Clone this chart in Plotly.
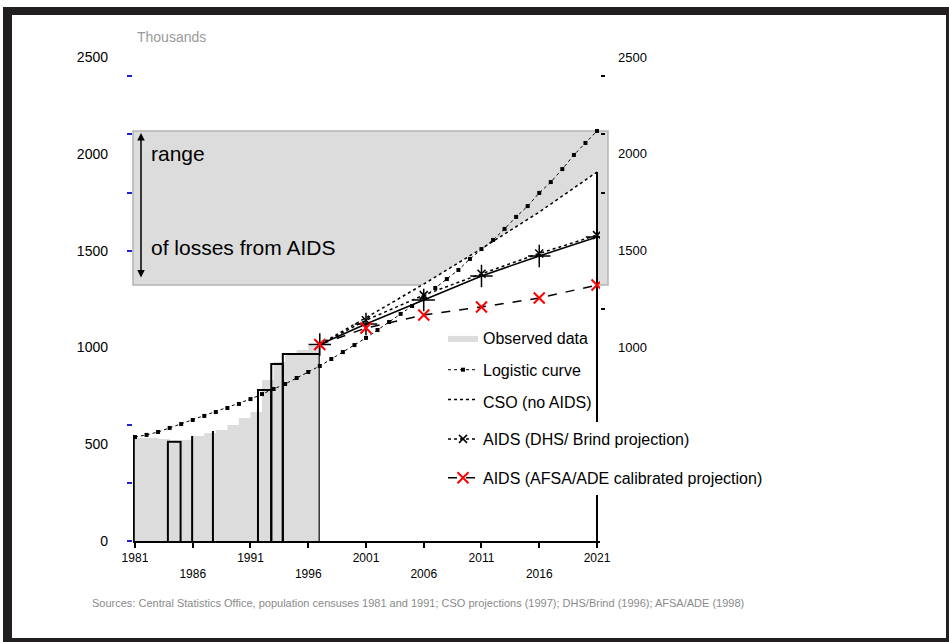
import plotly.graph_objects as go

# ---- data (thousands) ----
obs_years = list(range(1981, 1998))
obs_values = [532, 532, 527, 517, 522, 542, 558, 573, 599, 635, 666, 832, 925, 971, 987, 1007, 1007]

# census-style outline bars: start year, end year, height
bar_start = [1980.9, 1983.85, 1985.95, 1987.75, 1991.65, 1992.8, 1993.8, 1997.0]
bar_end = [1980.9, 1984.95, 1985.95, 1987.75, 1992.8, 1993.8, 1997.0, 1997.0]
bar_top = [537, 513, 542, 568, 780, 914, 966, 1028]

logistic_years = list(range(1981, 2022))
logistic_values = [537, 548, 563, 584, 604, 625, 646, 666, 687, 708,
                   733, 759, 785, 811, 842, 873, 904, 940, 976, 1012,
                   1049, 1090, 1131, 1173, 1214, 1260, 1307, 1353, 1400, 1457,
                   1508, 1555, 1612, 1674, 1730, 1798, 1854, 1921, 1994, 2056, 2118]

proj_years = [1997, 2001, 2006, 2011, 2016, 2021]
no_aids = [1015, 1152, 1327, 1510, 1699, 1906]
mid_proj = [1015, 1121, 1245, 1369, 1472, 1570]
aids_dhs = [1015, 1140, 1270, 1380, 1485, 1580]
aids_afsa = [1015, 1100, 1167, 1209, 1255, 1322]

x_tick_years = [1981, 1986, 1991, 1996, 2001, 2006, 2011, 2016, 2021]
y_tick_vals = [0, 500, 1000, 1500, 2000, 2500]
y2_tick_vals = [1000, 1500, 2000, 2500]
y_minor_vals = [0, 300, 600, 1500, 1800, 2100, 2400]

# ---- layout geometry (pixels) ----
W, H = 949, 642
PL, PR, PT, PB = 133, 600, 57, 541


def px_x(px):
    return (px - PL) / (PR - PL)


def px_y(py):
    return (PB - py) / (PB - PT)


FONT = "Arial, Liberation Sans, sans-serif"

fig = go.Figure()

# observed data: grey stepped area
fig.add_trace(go.Scatter(
    x=obs_years, y=obs_values, mode="lines", line=dict(width=0, shape="hv"),
    fill="tozeroy", fillcolor="#dcdcdc", name="Observed data",
    legendgroup="obs", legendrank=1, hoverinfo="skip"))

# observed data: black outlines of the census bars
ox, oy = [], []
for s, e, t in zip(bar_start, bar_end, bar_top):
    ox += [s, s, e, e, None]
    oy += [0, t, t, 0, None]
fig.add_trace(go.Scatter(
    x=ox, y=oy, mode="lines", line=dict(color="black", width=2),
    showlegend=False, hoverinfo="skip"))

# projection without AIDS: white area with black border
fig.add_trace(go.Scatter(
    x=proj_years, y=no_aids, mode="lines", line=dict(color="black", width=1.5, dash="dot"),
    fill="tozeroy", fillcolor="white", name="CSO (no AIDS)",
    legendgroup="noaids", legendrank=3, hoverinfo="skip"))
fig.add_trace(go.Scatter(
    x=[proj_years[-1], proj_years[-1]], y=[0, no_aids[-1]], mode="lines",
    line=dict(color="black", width=2), showlegend=False, hoverinfo="skip"))

# logistic curve
fig.add_trace(go.Scatter(
    x=logistic_years, y=logistic_values, mode="lines+markers",
    line=dict(color="black", width=1, dash="dot"),
    marker=dict(symbol="square", size=4, color="black"),
    name="Logistic curve", legendgroup="logistic", legendrank=2, hoverinfo="skip"))

# middle projection
fig.add_trace(go.Scatter(
    x=proj_years, y=mid_proj, mode="lines+markers",
    line=dict(color="black", width=1.5),
    marker=dict(symbol="cross-thin-open", size=16, color="black", line=dict(color="black", width=1.5)),
    showlegend=False, hoverinfo="skip"))

# AIDS projections
fig.add_trace(go.Scatter(
    x=proj_years, y=aids_dhs, mode="lines+markers",
    line=dict(color="black", width=1.5, dash="dot"),
    marker=dict(symbol="x-thin-open", size=8, color="black", line=dict(color="black", width=1.5)),
    name="AIDS (DHS/ Brind projection)", legend="legend2", legendgroup="dhs",
    hoverinfo="skip"))
fig.add_trace(go.Scatter(
    x=proj_years, y=aids_afsa, mode="lines+markers", yaxis="y2",
    line=dict(color="black", width=1.5, dash="dash"),
    marker=dict(symbol="x-thin-open", size=11, color="red", line=dict(color="red", width=2)),
    name="AIDS (AFSA/ADE calibrated projection)", legend="legend2", legendgroup="afsa",
    hoverinfo="skip"))

x_tick_text = [str(y) if i % 2 == 0 else "<br>" + str(y) for i, y in enumerate(x_tick_years)]

shapes = [
    # shaded band spanning the spread of 2021 projections
    dict(type="rect", xref="paper", yref="y", x0=0, x1=px_x(608),
         y0=aids_afsa[-1], y1=max(logistic_values), fillcolor="#dcdcdc",
         line=dict(color="#b4b4b4", width=1.5), layer="below"),
]
# outer frame
for x0, x1, y0, y1 in [(3, 12, 7, 642), (3, 949, 7, 15), (946, 949, 7, 642), (3, 949, 638, 642)]:
    shapes.append(dict(type="rect", xref="paper", yref="paper",
                       x0=px_x(x0), x1=px_x(x1), y0=px_y(y1), y1=px_y(y0),
                       fillcolor="#231f20", line=dict(width=0), layer="above"))

annotations = [
    dict(text="Thousands", xref="paper", yref="paper", x=px_x(135), y=px_y(37),
         xanchor="left", yanchor="middle", showarrow=False,
         font=dict(size=14, color="#9a9a9a", family=FONT)),
    dict(text="", xref="paper", yref="y", x=px_x(141), y=max(logistic_values),
         axref="pixel", ayref="y", ax=0, ay=aids_afsa[-1], showarrow=True,
         arrowside="end+start", arrowhead=2, arrowsize=1, arrowwidth=1.5,
         arrowcolor="black", standoff=2, startstandoff=6),
    dict(text="range", xref="paper", yref="paper", x=px_x(149), y=px_y(153),
         xanchor="left", yanchor="middle", showarrow=False,
         font=dict(size=21, color="black", family=FONT)),
    dict(text="of losses from AIDS", xref="paper", yref="paper", x=px_x(149), y=px_y(248),
         xanchor="left", yanchor="middle", showarrow=False,
         font=dict(size=21, color="black", family=FONT)),
    dict(text="Sources: Central Statistics Office, population censuses 1981 and 1991; CSO projections (1997); "
              "DHS/Brind (1996); AFSA/ADE (1998)",
         xref="paper", yref="paper", x=px_x(90), y=px_y(603),
         xanchor="left", yanchor="middle", showarrow=False,
         font=dict(size=11, color="#8a8a8a", family=FONT)),
]

fig.update_layout(
    width=W, height=H,
    margin=dict(l=PL, r=W - PR, t=PT, b=H - PB, pad=0),
    paper_bgcolor="white", plot_bgcolor="white",
    font=dict(family=FONT, color="black"),
    showlegend=True,
    xaxis=dict(range=[1980.83, 2021.26], showgrid=False, zeroline=False,
               showline=True, linecolor="black", linewidth=2,
               ticks="outside", ticklen=5, tickwidth=1.5, tickcolor="black",
               tickvals=x_tick_years, ticktext=x_tick_text,
               tickfont=dict(size=12, color="black")),
    yaxis=dict(range=[0, 2500], showgrid=False, zeroline=False, showline=False,
               ticks="", tickvals=y_tick_vals, ticklabelstandoff=24,
               tickfont=dict(size=14, color="black"),
               minor=dict(tickvals=y_minor_vals, ticks="outside", ticklen=5,
                          tickwidth=2, tickcolor="#2020d0")),
    yaxis2=dict(range=[0, 2500], overlaying="y", side="right", showgrid=False,
                zeroline=False, showline=False, ticks="", tickvals=y2_tick_vals,
                ticklabelstandoff=17, tickfont=dict(size=13, color="black"),
                minor=dict(tickvals=[1200, 1800, 2100, 2400], ticks="outside", ticklen=4,
                           tickwidth=1.5, tickcolor="black")),
    legend=dict(x=px_x(443), y=px_y(321), xanchor="left", yanchor="top",
                bgcolor="rgba(0,0,0,0)", font=dict(size=16, color="black", family=FONT),
                tracegroupgap=8, itemwidth=30, traceorder="grouped"),
    legend2=dict(x=px_x(443), y=px_y(422), xanchor="left", yanchor="top",
                 bgcolor="white", font=dict(size=16, color="black", family=FONT),
                 tracegroupgap=15, itemwidth=30, traceorder="grouped"),
    shapes=shapes,
    annotations=annotations,
)

fig.write_html("out.html")
